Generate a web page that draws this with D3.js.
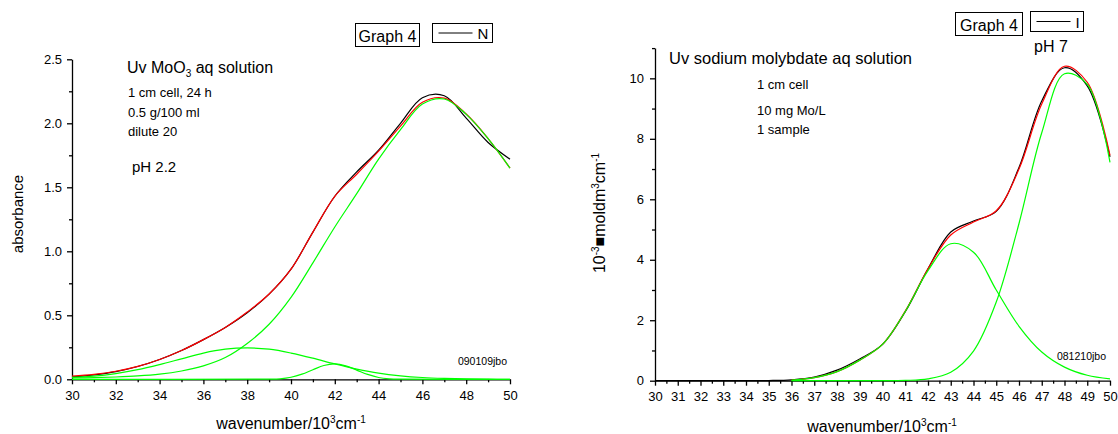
<!DOCTYPE html>
<html><head><meta charset="utf-8">
<script src="https://cdn.jsdelivr.net/npm/d3@7"></script>
<style>
body{margin:0;background:#fff}
svg{display:block;background:#fff}
text{font-family:"Liberation Sans",Arial,Helvetica,sans-serif;fill:#000}
</style>
</head><body>
<svg id="chart" width="1118" height="434"></svg>
<script>
// ---------- LEFT PANEL DATA (pH 2.2, MoO3) ----------
const wnLeft = [30,31,32,33,34,35,36,37,38,39,40,41,42,43,44,45,46,47,48,49,50];
const leftMeasured = [0.020,0.035,0.060,0.100,0.155,0.225,0.310,0.405,0.520,0.665,0.860,1.150,1.430,1.620,1.790,2.000,2.200,2.215,2.040,1.850,1.720];
const leftFit      = [0.025,0.038,0.063,0.101,0.155,0.225,0.310,0.405,0.525,0.666,0.860,1.150,1.430,1.602,1.782,1.978,2.164,2.197,2.073,1.881,1.650];
const leftBand1    = [0.010,0.013,0.018,0.026,0.040,0.065,0.105,0.170,0.280,0.430,0.640,0.910,1.190,1.450,1.720,1.950,2.150,2.190,2.070,1.880,1.650];
const leftBand2    = [0.015,0.025,0.045,0.075,0.115,0.160,0.205,0.235,0.245,0.235,0.205,0.165,0.120,0.080,0.048,0.027,0.014,0.007,0.003,0.001,0.000];
const wnLeftBand3  = [30,39,39.5,40,40.5,41,41.5,42,42.5,43,43.5,44,44.5,45,50];
const leftBand3    = [0,0.001,0.004,0.016,0.040,0.075,0.108,0.120,0.105,0.072,0.038,0.014,0.004,0.001,0];
const leftXTicks = [30,32,34,36,38,40,42,44,46,48,50];
const leftXMinor = [31,33,35,37,39,41,43,45,47,49];
const leftYTicks = [0,0.5,1.0,1.5,2.0,2.5];
const leftYMinor = [0.25,0.75,1.25,1.75,2.25];

// ---------- RIGHT PANEL DATA (pH 7, sodium molybdate) ----------
const wnRight = [30,31,32,33,34,35,36,37,38,39,40,41,42,43,44,45,46,47,48,49,50];
const rightMeasured = [0,0,0,0,0,0.005,0.03,0.12,0.35,0.72,1.20,2.28,3.70,4.92,5.28,5.60,7.05,9.25,10.35,9.75,7.40];
const wnRightFit = [36,37,38,39,40,41,42,43,44,45,46,47,48,49,50];
const rightFit   = [0.02,0.10,0.30,0.68,1.20,2.30,3.70,4.82,5.25,5.62,7.00,9.15,10.40,9.87,7.45];
const rightBandA = [0.02,0.10,0.30,0.68,1.20,2.29,3.64,4.53,4.25,3.00,1.80,0.95,0.45,0.18,0.06];
const rightBandB = [0,0,0,0,0,0.01,0.06,0.28,0.98,2.60,5.20,8.20,10.15,9.80,7.22];
const rightXTicks = [30,31,32,33,34,35,36,37,38,39,40,41,42,43,44,45,46,47,48,49,50];
const rightXMinor = [30.5,31.5,32.5,33.5,34.5,35.5,36.5,37.5,38.5,39.5,40.5,41.5,42.5,43.5,44.5,45.5,46.5,47.5,48.5,49.5];
const rightYTicks = [0,2,4,6,8,10];
const rightYMinor = [1,3,5,7,9,11];

const zip = (xs, ys) => xs.map((v, i) => [v, ys[i]]);
const svg = d3.select("#chart");
svg.append("rect").attr("width",1118).attr("height",434).attr("fill","#fff");

function styleAxis(sel){
  sel.attr("font-family",'"Liberation Sans",Arial,sans-serif').attr("font-size",13);
  sel.selectAll("path,line").attr("stroke","#000").attr("stroke-width",1.3);
  sel.selectAll("text").attr("fill","#000");
}

function panel(o){
  const g = svg.append("g");
  const x = d3.scaleLinear().domain([30,50]).range(o.xRange);
  const y = d3.scaleLinear().domain(o.yDomain).range(o.yRange);
  const y0 = o.yRange[0], x0 = o.xRange[0];
  g.append("g").attr("transform",`translate(0,${y0})`)
    .call(d3.axisBottom(x).tickValues(o.xMinor).tickSize(3).tickFormat(""))
    .call(s=>s.select(".domain").remove()).call(styleAxis);
  g.append("g").attr("transform",`translate(${x0},0)`)
    .call(d3.axisLeft(y).tickValues(o.yMinor).tickSize(3).tickFormat(""))
    .call(s=>s.select(".domain").remove()).call(styleAxis);
  g.append("g").attr("transform",`translate(0,${y0})`)
    .call(d3.axisBottom(x).tickValues(o.xTicks).tickSize(5).tickSizeOuter(0).tickPadding(6).tickFormat(d3.format("d")))
    .call(styleAxis);
  g.append("g").attr("transform",`translate(${x0},0)`)
    .call(d3.axisLeft(y).tickValues(o.yTicks).tickSize(5).tickSizeOuter(0).tickPadding(o.yPad).tickFormat(o.yFmt))
    .call(styleAxis);
  const line = d3.line().x(d=>x(d[0])).y(d=>y(d[1])).curve(d3.curveCatmullRom.alpha(0.5));
  o.series.forEach(s=>{
    g.append("path").attr("d",line(s.pts)).attr("fill","none")
     .attr("stroke",s.color).attr("stroke-width",1.2).attr("stroke-linejoin","round");
  });
  return g;
}

panel({
  xRange:[72,510], yDomain:[0,2.5], yRange:[379.3,59.3],
  xTicks:leftXTicks, xMinor:leftXMinor, yTicks:leftYTicks, yMinor:leftYMinor,
  yFmt:d3.format(".1f"), yPad:5,
  series:[
    {pts:zip(wnLeft,leftMeasured), color:"#000"},
    {pts:zip(wnLeft,leftFit), color:"#ff0000"},
    {pts:zip(wnLeft,leftBand1), color:"#00ff00"},
    {pts:zip(wnLeft,leftBand2), color:"#00ff00"},
    {pts:zip(wnLeftBand3,leftBand3), color:"#00ff00"}
  ]
});
panel({
  xRange:[655,1110], yDomain:[0,11], yRange:[380.7,48.1],
  xTicks:rightXTicks, xMinor:rightXMinor, yTicks:rightYTicks, yMinor:rightYMinor,
  yFmt:d3.format("d"), yPad:6,
  series:[
    {pts:zip(wnRight,rightMeasured), color:"#000"},
    {pts:zip(wnRightFit,rightFit), color:"#ff0000"},
    {pts:zip(wnRightFit,rightBandA), color:"#00ff00"},
    {pts:zip(wnRightFit,rightBandB), color:"#00ff00"}
  ]
});

function txt(x,y,size,str,anchor){
  return svg.append("text").attr("x",x).attr("y",y).attr("font-size",size)
    .attr("text-anchor",anchor||"start").text(str);
}
function rich(t, parts){
  let shift = 0;
  parts.forEach(([s,k])=>{
    const target = k==="sup" ? -6 : k==="sub" ? 4 : 0;
    const sp = t.append("tspan").attr("dy", target - shift).text(s);
    if(k!=="n") sp.attr("font-size", 10);
    shift = target;
  });
}

rich(svg.append("text").attr("x",291).attr("y",429).attr("font-size",16).attr("text-anchor","middle"),
  [["wavenumber/10","n"],["3","sup"],["cm","n"],["-1","sup"]]);
rich(svg.append("text").attr("x",882).attr("y",432).attr("font-size",16).attr("text-anchor","middle"),
  [["wavenumber/10","n"],["3","sup"],["cm","n"],["-1","sup"]]);

svg.append("text").attr("transform","translate(23,214) rotate(-90)").attr("font-size",15)
  .attr("text-anchor","middle").text("absorbance");
rich(svg.append("text").attr("transform","translate(605,213) rotate(-90)").attr("font-size",16).attr("text-anchor","middle"),
  [["10","n"],["-3","sup"],["\u25A0","n"],["moldm","n"],["3","sup"],["cm","n"],["-1","sup"]]);

rich(svg.append("text").attr("x",127).attr("y",73).attr("font-size",16),
  [["Uv MoO","n"],["3","sub"],[" aq solution","n"]]);
txt(128,97,13,"1 cm cell, 24 h");
txt(128,117,13,"0.5 g/100 ml");
txt(128,136,13,"dilute 20");
txt(132,172,15,"pH 2.2");
txt(507,365,10.5,"090109jbo","end").attr("fill","#333");

txt(669,64,16.5,"Uv sodium molybdate aq solution");
txt(757,89,13,"1 cm cell");
txt(757,115,13,"10 mg Mo/L");
txt(757,134,13,"1 sample");
txt(1034,52,16,"pH 7");
txt(1106,360,10.5,"081210jbo","end").attr("fill","#333");

function legend(gx,gy,gw,gh, lx,ly,lw,lh, label){
  svg.append("rect").attr("x",gx).attr("y",gy).attr("width",gw).attr("height",gh)
    .attr("fill","#fff").attr("stroke","#000").attr("stroke-width",1);
  txt(gx+gw/2, gy+gh-5, 16, "Graph 4", "middle");
  svg.append("rect").attr("x",lx).attr("y",ly).attr("width",lw).attr("height",lh)
    .attr("fill","#fff").attr("stroke","#000").attr("stroke-width",1);
  svg.append("line").attr("x1",lx+6).attr("x2",lx+40).attr("y1",ly+lh/2).attr("y2",ly+lh/2)
    .attr("stroke","#000").attr("stroke-width",1);
  txt(lx+45, ly+lh-4, 15, label);
}
legend(355.5,23.5,64,23, 432.5,23.5,60,19, "N");
legend(955.5,12.5,67,23, 1030.5,11.5,53,20, "I");
</script>
</body></html>
